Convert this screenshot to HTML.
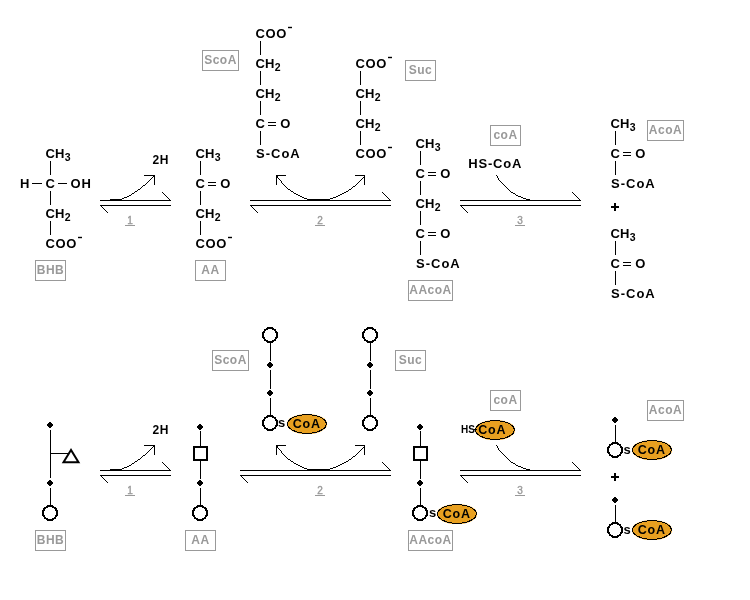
<!DOCTYPE html>
<html><head><meta charset="utf-8"><style>
html,body{margin:0;padding:0;background:#fff;width:750px;height:600px;overflow:hidden}
svg{display:block;will-change:transform;font-family:"Liberation Sans",sans-serif;font-weight:bold}
</style></head><body>
<svg width="750" height="600" viewBox="0 0 750 600">
<text x="45.5" y="158" font-size="13" letter-spacing="0" fill="#000" >CH</text>
<text x="64.8" y="160.6" font-size="10.5" letter-spacing="0" fill="#000" >3</text>
<rect x="50" y="161" width="1" height="14" fill="#000"/>
<text x="20" y="188" font-size="13" letter-spacing="0" fill="#000" >H</text>
<rect x="32" y="183" width="10" height="1" fill="#000"/>
<text x="45.5" y="188" font-size="13" letter-spacing="0" fill="#000" >C</text>
<rect x="58" y="183" width="9" height="1" fill="#000"/>
<text x="70.5" y="188" font-size="13" letter-spacing="1" fill="#000" >OH</text>
<rect x="50" y="191" width="1" height="14" fill="#000"/>
<text x="45.5" y="218" font-size="13" letter-spacing="0" fill="#000" >CH</text>
<text x="64.8" y="220.6" font-size="10.5" letter-spacing="0" fill="#000" >2</text>
<rect x="50" y="221" width="1" height="14" fill="#000"/>
<text x="45.5" y="248" font-size="13" letter-spacing="0.6" fill="#000" >COO</text>
<rect x="78" y="236.8" width="4" height="1.4" fill="#000"/>
<text x="195.5" y="158" font-size="13" letter-spacing="0" fill="#000" >CH</text>
<text x="214.8" y="160.6" font-size="10.5" letter-spacing="0" fill="#000" >3</text>
<rect x="200" y="161" width="1" height="14" fill="#000"/>
<text x="195.5" y="188" font-size="13" letter-spacing="1" fill="#000" >C</text>
<rect x="208" y="182" width="8" height="1" fill="#000"/>
<rect x="208" y="185" width="8" height="1" fill="#000"/>
<text x="220.3" y="188" font-size="13" letter-spacing="1" fill="#000" >O</text>
<rect x="200" y="191" width="1" height="14" fill="#000"/>
<text x="195.5" y="218" font-size="13" letter-spacing="0" fill="#000" >CH</text>
<text x="214.8" y="220.6" font-size="10.5" letter-spacing="0" fill="#000" >2</text>
<rect x="200" y="221" width="1" height="14" fill="#000"/>
<text x="195.5" y="248" font-size="13" letter-spacing="0.6" fill="#000" >COO</text>
<rect x="228" y="236.8" width="4" height="1.4" fill="#000"/>
<text x="255.5" y="38" font-size="13" letter-spacing="0.6" fill="#000" >COO</text>
<rect x="288" y="26.8" width="4" height="1.4" fill="#000"/>
<rect x="260" y="41" width="1" height="14" fill="#000"/>
<text x="255.5" y="68" font-size="13" letter-spacing="0" fill="#000" >CH</text>
<text x="274.8" y="70.6" font-size="10.5" letter-spacing="0" fill="#000" >2</text>
<rect x="260" y="71" width="1" height="14" fill="#000"/>
<text x="255.5" y="98" font-size="13" letter-spacing="0" fill="#000" >CH</text>
<text x="274.8" y="100.6" font-size="10.5" letter-spacing="0" fill="#000" >2</text>
<rect x="260" y="101" width="1" height="14" fill="#000"/>
<text x="255.5" y="128" font-size="13" letter-spacing="1" fill="#000" >C</text>
<rect x="268" y="122" width="8" height="1" fill="#000"/>
<rect x="268" y="125" width="8" height="1" fill="#000"/>
<text x="280.3" y="128" font-size="13" letter-spacing="1" fill="#000" >O</text>
<rect x="260" y="131" width="1" height="14" fill="#000"/>
<text x="256" y="158" font-size="13" letter-spacing="1" fill="#000" >S-CoA</text>
<text x="355.5" y="68" font-size="13" letter-spacing="0.6" fill="#000" >COO</text>
<rect x="388" y="56.8" width="4" height="1.4" fill="#000"/>
<rect x="360" y="71" width="1" height="14" fill="#000"/>
<text x="355.5" y="98" font-size="13" letter-spacing="0" fill="#000" >CH</text>
<text x="374.8" y="100.6" font-size="10.5" letter-spacing="0" fill="#000" >2</text>
<rect x="360" y="101" width="1" height="14" fill="#000"/>
<text x="355.5" y="128" font-size="13" letter-spacing="0" fill="#000" >CH</text>
<text x="374.8" y="130.6" font-size="10.5" letter-spacing="0" fill="#000" >2</text>
<rect x="360" y="131" width="1" height="14" fill="#000"/>
<text x="355.5" y="158" font-size="13" letter-spacing="0.6" fill="#000" >COO</text>
<rect x="388" y="146.8" width="4" height="1.4" fill="#000"/>
<text x="415.5" y="148" font-size="13" letter-spacing="0" fill="#000" >CH</text>
<text x="434.8" y="150.6" font-size="10.5" letter-spacing="0" fill="#000" >3</text>
<rect x="420" y="151" width="1" height="14" fill="#000"/>
<text x="415.5" y="178" font-size="13" letter-spacing="1" fill="#000" >C</text>
<rect x="428" y="172" width="8" height="1" fill="#000"/>
<rect x="428" y="175" width="8" height="1" fill="#000"/>
<text x="440.3" y="178" font-size="13" letter-spacing="1" fill="#000" >O</text>
<rect x="420" y="181" width="1" height="14" fill="#000"/>
<text x="415.5" y="208" font-size="13" letter-spacing="0" fill="#000" >CH</text>
<text x="434.8" y="210.6" font-size="10.5" letter-spacing="0" fill="#000" >2</text>
<rect x="420" y="211" width="1" height="14" fill="#000"/>
<text x="415.5" y="238" font-size="13" letter-spacing="1" fill="#000" >C</text>
<rect x="428" y="232" width="8" height="1" fill="#000"/>
<rect x="428" y="235" width="8" height="1" fill="#000"/>
<text x="440.3" y="238" font-size="13" letter-spacing="1" fill="#000" >O</text>
<rect x="420" y="241" width="1" height="14" fill="#000"/>
<text x="416" y="268" font-size="13" letter-spacing="1" fill="#000" >S-CoA</text>
<text x="468.3" y="168" font-size="13" letter-spacing="0.8" fill="#000" >HS-CoA</text>
<text x="610.5" y="128" font-size="13" letter-spacing="0" fill="#000" >CH</text>
<text x="629.8" y="130.6" font-size="10.5" letter-spacing="0" fill="#000" >3</text>
<rect x="615" y="131" width="1" height="14" fill="#000"/>
<text x="610.5" y="158" font-size="13" letter-spacing="1" fill="#000" >C</text>
<rect x="623" y="152" width="8" height="1" fill="#000"/>
<rect x="623" y="155" width="8" height="1" fill="#000"/>
<text x="635.3" y="158" font-size="13" letter-spacing="1" fill="#000" >O</text>
<rect x="615" y="161" width="1" height="14" fill="#000"/>
<text x="611" y="188" font-size="13" letter-spacing="1" fill="#000" >S-CoA</text>
<rect x="611" y="206" width="8" height="2" fill="#000"/>
<rect x="614" y="203" width="2" height="8" fill="#000"/>
<text x="610.5" y="238" font-size="13" letter-spacing="0" fill="#000" >CH</text>
<text x="629.8" y="240.6" font-size="10.5" letter-spacing="0" fill="#000" >3</text>
<rect x="615" y="241" width="1" height="14" fill="#000"/>
<text x="610.5" y="268" font-size="13" letter-spacing="1" fill="#000" >C</text>
<rect x="623" y="262" width="8" height="1" fill="#000"/>
<rect x="623" y="265" width="8" height="1" fill="#000"/>
<text x="635.3" y="268" font-size="13" letter-spacing="1" fill="#000" >O</text>
<rect x="615" y="271" width="1" height="14" fill="#000"/>
<text x="611" y="298" font-size="13" letter-spacing="1" fill="#000" >S-CoA</text>
<text x="152.6" y="164" font-size="12" letter-spacing="0.6" fill="#000" >2H</text>
<text x="152.6" y="434" font-size="12" letter-spacing="0.6" fill="#000" >2H</text>
<rect x="100" y="200" width="71" height="1" fill="#000"/>
<rect x="100" y="205" width="71" height="1" fill="#000"/>
<line x1="162.5" y1="192.5" x2="170.5" y2="200.5" stroke="#000" stroke-width="1" shape-rendering="crispEdges" />
<line x1="100.5" y1="205.5" x2="108" y2="213" stroke="#000" stroke-width="1" shape-rendering="crispEdges" />
<path d="M110,199h1v1h-1zM111,199h1v1h-1zM112,199h1v1h-1zM113,199h1v1h-1zM114,199h1v1h-1zM115,199h1v1h-1zM116,199h1v1h-1zM117,199h1v1h-1zM118,199h1v1h-1zM119,199h1v1h-1zM120,199h1v1h-1zM121,199h1v1h-1zM122,198h1v1h-1zM123,198h1v1h-1zM124,197h1v1h-1zM125,197h1v1h-1zM126,197h1v1h-1zM127,196h1v1h-1zM128,196h1v1h-1zM129,195h1v1h-1zM130,195h1v1h-1zM131,194h1v1h-1zM132,193h1v1h-1zM133,193h1v1h-1zM134,192h1v1h-1zM135,191h1v1h-1zM136,191h1v1h-1zM137,190h1v1h-1zM138,189h1v1h-1zM139,189h1v1h-1zM140,188h1v1h-1zM141,187h1v1h-1zM142,186h1v1h-1zM143,185h1v1h-1zM144,185h1v1h-1zM145,184h1v1h-1zM146,183h1v1h-1zM147,182h1v1h-1zM148,181h1v1h-1zM149,180h1v1h-1zM150,179h1v1h-1zM151,178h1v1h-1zM152,177h1v1h-1zM153,176h1v1h-1zM154,175h1v1h-1z" fill="#000"/>
<rect x="144" y="175" width="11" height="1" fill="#000"/>
<rect x="154" y="175" width="1" height="10" fill="#000"/>
<rect x="250" y="200" width="141" height="1" fill="#000"/>
<rect x="250" y="205" width="141" height="1" fill="#000"/>
<line x1="382.5" y1="192.5" x2="390.5" y2="200.5" stroke="#000" stroke-width="1" shape-rendering="crispEdges" />
<line x1="250.5" y1="205.5" x2="258" y2="213" stroke="#000" stroke-width="1" shape-rendering="crispEdges" />
<path d="M276,175h1v1h-1zM277,176h1v1h-1zM277,177h1v1h-1zM278,178h1v1h-1zM279,179h1v1h-1zM280,180h1v1h-1zM281,181h1v1h-1zM281,182h1v1h-1zM282,183h1v1h-1zM283,184h1v1h-1zM284,185h1v1h-1zM285,186h1v1h-1zM286,187h1v1h-1zM287,188h1v1h-1zM288,189h1v1h-1zM289,189h1v1h-1zM290,190h1v1h-1zM291,191h1v1h-1zM292,191h1v1h-1zM293,192h1v1h-1zM294,193h1v1h-1zM295,193h1v1h-1zM296,194h1v1h-1zM297,194h1v1h-1zM298,195h1v1h-1zM299,195h1v1h-1zM300,196h1v1h-1zM301,196h1v1h-1zM302,197h1v1h-1zM303,197h1v1h-1zM304,198h1v1h-1zM305,198h1v1h-1zM306,198h1v1h-1zM307,199h1v1h-1zM308,199h1v1h-1zM309,199h1v1h-1zM310,199h1v1h-1zM311,199h1v1h-1zM312,199h1v1h-1zM313,199h1v1h-1zM314,199h1v1h-1zM315,199h1v1h-1zM316,199h1v1h-1zM317,199h1v1h-1zM318,199h1v1h-1zM319,199h1v1h-1zM320,199h1v1h-1zM321,199h1v1h-1zM322,199h1v1h-1zM323,199h1v1h-1zM324,199h1v1h-1zM325,199h1v1h-1zM326,199h1v1h-1zM327,199h1v1h-1zM328,199h1v1h-1zM329,199h1v1h-1zM330,198h1v1h-1zM331,198h1v1h-1zM332,198h1v1h-1zM333,197h1v1h-1zM334,197h1v1h-1zM335,197h1v1h-1zM336,196h1v1h-1zM337,196h1v1h-1zM338,195h1v1h-1zM339,195h1v1h-1zM340,194h1v1h-1zM341,194h1v1h-1zM342,193h1v1h-1zM343,193h1v1h-1zM344,192h1v1h-1zM345,192h1v1h-1zM346,191h1v1h-1zM347,191h1v1h-1zM348,190h1v1h-1zM349,189h1v1h-1zM350,189h1v1h-1zM351,188h1v1h-1zM352,187h1v1h-1zM353,186h1v1h-1zM354,186h1v1h-1zM355,185h1v1h-1zM356,184h1v1h-1zM357,183h1v1h-1zM358,182h1v1h-1zM359,181h1v1h-1zM360,180h1v1h-1zM361,179h1v1h-1zM362,178h1v1h-1zM363,177h1v1h-1zM364,176h1v1h-1zM364,175h1v1h-1z" fill="#000"/>
<rect x="276" y="175" width="10" height="1" fill="#000"/>
<rect x="276" y="175" width="1" height="10" fill="#000"/>
<rect x="355" y="175" width="10" height="1" fill="#000"/>
<rect x="364" y="175" width="1" height="10" fill="#000"/>
<rect x="460" y="200" width="121" height="1" fill="#000"/>
<rect x="460" y="205" width="121" height="1" fill="#000"/>
<line x1="572.5" y1="192.5" x2="580.5" y2="200.5" stroke="#000" stroke-width="1" shape-rendering="crispEdges" />
<line x1="460.5" y1="205.5" x2="468" y2="213" stroke="#000" stroke-width="1" shape-rendering="crispEdges" />
<path d="M496,175h1v1h-1zM497,176h1v1h-1zM497,177h1v1h-1zM498,178h1v1h-1zM498,179h1v1h-1zM499,180h1v1h-1zM500,181h1v1h-1zM501,182h1v1h-1zM502,183h1v1h-1zM503,184h1v1h-1zM504,185h1v1h-1zM505,186h1v1h-1zM506,187h1v1h-1zM507,188h1v1h-1zM508,189h1v1h-1zM509,190h1v1h-1zM510,191h1v1h-1zM511,192h1v1h-1zM512,192h1v1h-1zM513,193h1v1h-1zM514,193h1v1h-1zM515,194h1v1h-1zM516,195h1v1h-1zM517,195h1v1h-1zM518,196h1v1h-1zM519,196h1v1h-1zM520,196h1v1h-1zM521,197h1v1h-1zM522,197h1v1h-1zM523,198h1v1h-1zM524,198h1v1h-1zM525,198h1v1h-1zM526,199h1v1h-1zM527,199h1v1h-1zM528,199h1v1h-1zM529,199h1v1h-1z" fill="#000"/>
<text x="130" y="224" font-size="10" letter-spacing="0" fill="#999" text-anchor="middle" font-weight="normal" stroke="#999" stroke-width="0.35">1</text>
<rect x="125" y="225" width="10" height="1" fill="#999"/>
<text x="320" y="224" font-size="10" letter-spacing="0" fill="#999" text-anchor="middle" font-weight="normal" stroke="#999" stroke-width="0.35">2</text>
<rect x="315" y="225" width="10" height="1" fill="#999"/>
<text x="520" y="224" font-size="10" letter-spacing="0" fill="#999" text-anchor="middle" font-weight="normal" stroke="#999" stroke-width="0.35">3</text>
<rect x="515" y="225" width="10" height="1" fill="#999"/>
<rect x="100" y="470" width="71" height="1" fill="#000"/>
<rect x="100" y="475" width="71" height="1" fill="#000"/>
<line x1="162.5" y1="462.5" x2="170.5" y2="470.5" stroke="#000" stroke-width="1" shape-rendering="crispEdges" />
<line x1="100.5" y1="475.5" x2="108" y2="483" stroke="#000" stroke-width="1" shape-rendering="crispEdges" />
<path d="M110,469h1v1h-1zM111,469h1v1h-1zM112,469h1v1h-1zM113,469h1v1h-1zM114,469h1v1h-1zM115,469h1v1h-1zM116,469h1v1h-1zM117,469h1v1h-1zM118,469h1v1h-1zM119,469h1v1h-1zM120,469h1v1h-1zM121,469h1v1h-1zM122,468h1v1h-1zM123,468h1v1h-1zM124,467h1v1h-1zM125,467h1v1h-1zM126,467h1v1h-1zM127,466h1v1h-1zM128,466h1v1h-1zM129,465h1v1h-1zM130,465h1v1h-1zM131,464h1v1h-1zM132,463h1v1h-1zM133,463h1v1h-1zM134,462h1v1h-1zM135,461h1v1h-1zM136,461h1v1h-1zM137,460h1v1h-1zM138,459h1v1h-1zM139,459h1v1h-1zM140,458h1v1h-1zM141,457h1v1h-1zM142,456h1v1h-1zM143,455h1v1h-1zM144,455h1v1h-1zM145,454h1v1h-1zM146,453h1v1h-1zM147,452h1v1h-1zM148,451h1v1h-1zM149,450h1v1h-1zM150,449h1v1h-1zM151,448h1v1h-1zM152,447h1v1h-1zM153,446h1v1h-1zM154,445h1v1h-1z" fill="#000"/>
<rect x="144" y="445" width="11" height="1" fill="#000"/>
<rect x="154" y="445" width="1" height="10" fill="#000"/>
<rect x="240" y="470" width="151" height="1" fill="#000"/>
<rect x="240" y="475" width="151" height="1" fill="#000"/>
<line x1="382.5" y1="462.5" x2="390.5" y2="470.5" stroke="#000" stroke-width="1" shape-rendering="crispEdges" />
<line x1="240.5" y1="475.5" x2="248" y2="483" stroke="#000" stroke-width="1" shape-rendering="crispEdges" />
<path d="M276,445h1v1h-1zM277,446h1v1h-1zM277,447h1v1h-1zM278,448h1v1h-1zM279,449h1v1h-1zM280,450h1v1h-1zM281,451h1v1h-1zM281,452h1v1h-1zM282,453h1v1h-1zM283,454h1v1h-1zM284,455h1v1h-1zM285,456h1v1h-1zM286,457h1v1h-1zM287,458h1v1h-1zM288,459h1v1h-1zM289,459h1v1h-1zM290,460h1v1h-1zM291,461h1v1h-1zM292,461h1v1h-1zM293,462h1v1h-1zM294,463h1v1h-1zM295,463h1v1h-1zM296,464h1v1h-1zM297,464h1v1h-1zM298,465h1v1h-1zM299,465h1v1h-1zM300,466h1v1h-1zM301,466h1v1h-1zM302,467h1v1h-1zM303,467h1v1h-1zM304,468h1v1h-1zM305,468h1v1h-1zM306,468h1v1h-1zM307,469h1v1h-1zM308,469h1v1h-1zM309,469h1v1h-1zM310,469h1v1h-1zM311,469h1v1h-1zM312,469h1v1h-1zM313,469h1v1h-1zM314,469h1v1h-1zM315,469h1v1h-1zM316,469h1v1h-1zM317,469h1v1h-1zM318,469h1v1h-1zM319,469h1v1h-1zM320,469h1v1h-1zM321,469h1v1h-1zM322,469h1v1h-1zM323,469h1v1h-1zM324,469h1v1h-1zM325,469h1v1h-1zM326,469h1v1h-1zM327,469h1v1h-1zM328,469h1v1h-1zM329,469h1v1h-1zM330,468h1v1h-1zM331,468h1v1h-1zM332,468h1v1h-1zM333,467h1v1h-1zM334,467h1v1h-1zM335,467h1v1h-1zM336,466h1v1h-1zM337,466h1v1h-1zM338,465h1v1h-1zM339,465h1v1h-1zM340,464h1v1h-1zM341,464h1v1h-1zM342,463h1v1h-1zM343,463h1v1h-1zM344,462h1v1h-1zM345,462h1v1h-1zM346,461h1v1h-1zM347,461h1v1h-1zM348,460h1v1h-1zM349,459h1v1h-1zM350,459h1v1h-1zM351,458h1v1h-1zM352,457h1v1h-1zM353,456h1v1h-1zM354,456h1v1h-1zM355,455h1v1h-1zM356,454h1v1h-1zM357,453h1v1h-1zM358,452h1v1h-1zM359,451h1v1h-1zM360,450h1v1h-1zM361,449h1v1h-1zM362,448h1v1h-1zM363,447h1v1h-1zM364,446h1v1h-1zM364,445h1v1h-1z" fill="#000"/>
<rect x="276" y="445" width="10" height="1" fill="#000"/>
<rect x="276" y="445" width="1" height="10" fill="#000"/>
<rect x="355" y="445" width="10" height="1" fill="#000"/>
<rect x="364" y="445" width="1" height="10" fill="#000"/>
<rect x="460" y="470" width="121" height="1" fill="#000"/>
<rect x="460" y="475" width="121" height="1" fill="#000"/>
<line x1="572.5" y1="462.5" x2="580.5" y2="470.5" stroke="#000" stroke-width="1" shape-rendering="crispEdges" />
<line x1="460.5" y1="475.5" x2="468" y2="483" stroke="#000" stroke-width="1" shape-rendering="crispEdges" />
<path d="M496,445h1v1h-1zM497,446h1v1h-1zM497,447h1v1h-1zM498,448h1v1h-1zM498,449h1v1h-1zM499,450h1v1h-1zM500,451h1v1h-1zM501,452h1v1h-1zM502,453h1v1h-1zM503,454h1v1h-1zM504,455h1v1h-1zM505,456h1v1h-1zM506,457h1v1h-1zM507,458h1v1h-1zM508,459h1v1h-1zM509,460h1v1h-1zM510,461h1v1h-1zM511,462h1v1h-1zM512,462h1v1h-1zM513,463h1v1h-1zM514,463h1v1h-1zM515,464h1v1h-1zM516,465h1v1h-1zM517,465h1v1h-1zM518,466h1v1h-1zM519,466h1v1h-1zM520,466h1v1h-1zM521,467h1v1h-1zM522,467h1v1h-1zM523,468h1v1h-1zM524,468h1v1h-1zM525,468h1v1h-1zM526,469h1v1h-1zM527,469h1v1h-1zM528,469h1v1h-1zM529,469h1v1h-1z" fill="#000"/>
<text x="130" y="494" font-size="10" letter-spacing="0" fill="#999" text-anchor="middle" font-weight="normal" stroke="#999" stroke-width="0.35">1</text>
<rect x="125" y="495" width="10" height="1" fill="#999"/>
<text x="320" y="494" font-size="10" letter-spacing="0" fill="#999" text-anchor="middle" font-weight="normal" stroke="#999" stroke-width="0.35">2</text>
<rect x="315" y="495" width="10" height="1" fill="#999"/>
<text x="520" y="494" font-size="10" letter-spacing="0" fill="#999" text-anchor="middle" font-weight="normal" stroke="#999" stroke-width="0.35">3</text>
<rect x="515" y="495" width="10" height="1" fill="#999"/>
<rect x="202.5" y="50.5" width="36" height="20" fill="none" stroke="#999" stroke-width="1"/>
<text x="220.5" y="64.2" font-size="12" letter-spacing="0.5" fill="#999" text-anchor="middle">ScoA</text>
<rect x="405.5" y="60.5" width="30" height="20" fill="none" stroke="#999" stroke-width="1"/>
<text x="420.5" y="74.2" font-size="12" letter-spacing="0.5" fill="#999" text-anchor="middle">Suc</text>
<rect x="490.5" y="125.5" width="30" height="20" fill="none" stroke="#999" stroke-width="1"/>
<text x="505.5" y="139.2" font-size="12" letter-spacing="0.5" fill="#999" text-anchor="middle">coA</text>
<rect x="647.5" y="120.5" width="36" height="20" fill="none" stroke="#999" stroke-width="1"/>
<text x="665.5" y="134.2" font-size="12" letter-spacing="0.5" fill="#999" text-anchor="middle">AcoA</text>
<rect x="35.5" y="260.5" width="30" height="20" fill="none" stroke="#999" stroke-width="1"/>
<text x="50.5" y="274.2" font-size="12" letter-spacing="0.5" fill="#999" text-anchor="middle">BHB</text>
<rect x="195.5" y="260.5" width="30" height="20" fill="none" stroke="#999" stroke-width="1"/>
<text x="210.5" y="274.2" font-size="12" letter-spacing="0.5" fill="#999" text-anchor="middle">AA</text>
<rect x="408.5" y="280.5" width="44" height="20" fill="none" stroke="#999" stroke-width="1"/>
<text x="430.5" y="294.2" font-size="12" letter-spacing="0.5" fill="#999" text-anchor="middle">AAcoA</text>
<rect x="212.5" y="350.5" width="36" height="20" fill="none" stroke="#999" stroke-width="1"/>
<text x="230.5" y="364.2" font-size="12" letter-spacing="0.5" fill="#999" text-anchor="middle">ScoA</text>
<rect x="395.5" y="350.5" width="30" height="20" fill="none" stroke="#999" stroke-width="1"/>
<text x="410.5" y="364.2" font-size="12" letter-spacing="0.5" fill="#999" text-anchor="middle">Suc</text>
<rect x="490.5" y="390.5" width="30" height="20" fill="none" stroke="#999" stroke-width="1"/>
<text x="505.5" y="404.2" font-size="12" letter-spacing="0.5" fill="#999" text-anchor="middle">coA</text>
<rect x="647.5" y="400.5" width="36" height="20" fill="none" stroke="#999" stroke-width="1"/>
<text x="665.5" y="414.2" font-size="12" letter-spacing="0.5" fill="#999" text-anchor="middle">AcoA</text>
<rect x="35.5" y="530.5" width="30" height="20" fill="none" stroke="#999" stroke-width="1"/>
<text x="50.5" y="544.2" font-size="12" letter-spacing="0.5" fill="#999" text-anchor="middle">BHB</text>
<rect x="185.5" y="530.5" width="30" height="20" fill="none" stroke="#999" stroke-width="1"/>
<text x="200.5" y="544.2" font-size="12" letter-spacing="0.5" fill="#999" text-anchor="middle">AA</text>
<rect x="408.5" y="530.5" width="44" height="20" fill="none" stroke="#999" stroke-width="1"/>
<text x="430.5" y="544.2" font-size="12" letter-spacing="0.5" fill="#999" text-anchor="middle">AAcoA</text>
<path d="M49,422 H51 V423 H52 V424 H53 V426 H52 V427 H51 V428 H49 V427 H48 V426 H47 V424 H48 V423 H49 Z" fill="#000" shape-rendering="crispEdges"/>
<rect x="50" y="430" width="1" height="48" fill="#000"/>
<rect x="50" y="453" width="18" height="1" fill="#000"/>
<path d="M71,450 L63.5,462.3 L78.5,462.3 Z" fill="none" stroke="#000" stroke-width="2" stroke-linejoin="miter"/>
<path d="M49,480 H51 V481 H52 V482 H53 V484 H52 V485 H51 V486 H49 V485 H48 V484 H47 V482 H48 V481 H49 Z" fill="#000" shape-rendering="crispEdges"/>
<rect x="50" y="488" width="1" height="18" fill="#000"/>
<circle cx="50" cy="513" r="7" fill="#fff" stroke="#000" stroke-width="2" shape-rendering="crispEdges"/>
<path d="M199,424 H201 V425 H202 V426 H203 V428 H202 V429 H201 V430 H199 V429 H198 V428 H197 V426 H198 V425 H199 Z" fill="#000" shape-rendering="crispEdges"/>
<rect x="200" y="431" width="1" height="16" fill="#000"/>
<rect x="194" y="447" width="13" height="13" fill="#fff" stroke="#000" stroke-width="2"/>
<rect x="200" y="461" width="1" height="18" fill="#000"/>
<path d="M199,480 H201 V481 H202 V482 H203 V484 H202 V485 H201 V486 H199 V485 H198 V484 H197 V482 H198 V481 H199 Z" fill="#000" shape-rendering="crispEdges"/>
<rect x="200" y="488" width="1" height="18" fill="#000"/>
<circle cx="200" cy="513" r="7" fill="#fff" stroke="#000" stroke-width="2" shape-rendering="crispEdges"/>
<rect x="270" y="342" width="1" height="19" fill="#000"/>
<rect x="270" y="370" width="1" height="19" fill="#000"/>
<rect x="270" y="398" width="1" height="19" fill="#000"/>
<circle cx="270" cy="335" r="7" fill="#fff" stroke="#000" stroke-width="2" shape-rendering="crispEdges"/>
<path d="M269,362 H271 V363 H272 V364 H273 V366 H272 V367 H271 V368 H269 V367 H268 V366 H267 V364 H268 V363 H269 Z" fill="#000" shape-rendering="crispEdges"/>
<path d="M269,390 H271 V391 H272 V392 H273 V394 H272 V395 H271 V396 H269 V395 H268 V394 H267 V392 H268 V391 H269 Z" fill="#000" shape-rendering="crispEdges"/>
<circle cx="270" cy="423" r="7" fill="#fff" stroke="#000" stroke-width="2" shape-rendering="crispEdges"/>
<rect x="370" y="342" width="1" height="19" fill="#000"/>
<rect x="370" y="370" width="1" height="19" fill="#000"/>
<rect x="370" y="398" width="1" height="19" fill="#000"/>
<circle cx="370" cy="335" r="7" fill="#fff" stroke="#000" stroke-width="2" shape-rendering="crispEdges"/>
<path d="M369,362 H371 V363 H372 V364 H373 V366 H372 V367 H371 V368 H369 V367 H368 V366 H367 V364 H368 V363 H369 Z" fill="#000" shape-rendering="crispEdges"/>
<path d="M369,390 H371 V391 H372 V392 H373 V394 H372 V395 H371 V396 H369 V395 H368 V394 H367 V392 H368 V391 H369 Z" fill="#000" shape-rendering="crispEdges"/>
<circle cx="370" cy="423" r="7" fill="#fff" stroke="#000" stroke-width="2" shape-rendering="crispEdges"/>
<text x="278" y="426.5" font-size="13" letter-spacing="0" fill="#000" >s</text>
<ellipse cx="307" cy="424" rx="20.1" ry="10.1" fill="#E8A020"/>
<ellipse cx="307" cy="424" rx="19.3" ry="9.3" fill="none" stroke="#000" stroke-width="1" shape-rendering="crispEdges"/>
<text x="306.7" y="428.0" font-size="12.5" letter-spacing="0.8" fill="#000" text-anchor="middle">CoA</text>
<path d="M419,424 H421 V425 H422 V426 H423 V428 H422 V429 H421 V430 H419 V429 H418 V428 H417 V426 H418 V425 H419 Z" fill="#000" shape-rendering="crispEdges"/>
<rect x="420" y="431" width="1" height="16" fill="#000"/>
<rect x="414" y="447" width="13" height="13" fill="#fff" stroke="#000" stroke-width="2"/>
<rect x="420" y="461" width="1" height="18" fill="#000"/>
<path d="M419,480 H421 V481 H422 V482 H423 V484 H422 V485 H421 V486 H419 V485 H418 V484 H417 V482 H418 V481 H419 Z" fill="#000" shape-rendering="crispEdges"/>
<rect x="420" y="488" width="1" height="18" fill="#000"/>
<circle cx="420" cy="513" r="7" fill="#fff" stroke="#000" stroke-width="2" shape-rendering="crispEdges"/>
<text x="429" y="517" font-size="13" letter-spacing="0" fill="#000" >s</text>
<ellipse cx="457" cy="514" rx="20.1" ry="10.1" fill="#E8A020"/>
<ellipse cx="457" cy="514" rx="19.3" ry="9.3" fill="none" stroke="#000" stroke-width="1" shape-rendering="crispEdges"/>
<text x="456.7" y="518.0" font-size="12.5" letter-spacing="0.8" fill="#000" text-anchor="middle">CoA</text>
<text x="461" y="433" font-size="10" letter-spacing="0" fill="#000" >HS</text>
<ellipse cx="495" cy="430" rx="20.1" ry="10.1" fill="#E8A020"/>
<ellipse cx="495" cy="430" rx="19.3" ry="9.3" fill="none" stroke="#000" stroke-width="1" shape-rendering="crispEdges"/>
<text x="492.2" y="434.0" font-size="12.5" letter-spacing="0.8" fill="#000" text-anchor="middle">CoA</text>
<rect x="474" y="429" width="3" height="1" fill="#000"/>
<path d="M614,417 H616 V418 H617 V419 H618 V421 H617 V422 H616 V423 H614 V422 H613 V421 H612 V419 H613 V418 H614 Z" fill="#000" shape-rendering="crispEdges"/>
<rect x="615" y="425" width="1" height="18" fill="#000"/>
<circle cx="615" cy="450" r="7" fill="#fff" stroke="#000" stroke-width="2" shape-rendering="crispEdges"/>
<text x="623.5" y="453.5" font-size="13" letter-spacing="0" fill="#000" >s</text>
<ellipse cx="652" cy="450" rx="20.1" ry="10.1" fill="#E8A020"/>
<ellipse cx="652" cy="450" rx="19.3" ry="9.3" fill="none" stroke="#000" stroke-width="1" shape-rendering="crispEdges"/>
<text x="651.7" y="454.0" font-size="12.5" letter-spacing="0.8" fill="#000" text-anchor="middle">CoA</text>
<path d="M614,497 H616 V498 H617 V499 H618 V501 H617 V502 H616 V503 H614 V502 H613 V501 H612 V499 H613 V498 H614 Z" fill="#000" shape-rendering="crispEdges"/>
<rect x="615" y="505" width="1" height="18" fill="#000"/>
<circle cx="615" cy="530" r="7" fill="#fff" stroke="#000" stroke-width="2" shape-rendering="crispEdges"/>
<text x="623.5" y="533.5" font-size="13" letter-spacing="0" fill="#000" >s</text>
<ellipse cx="652" cy="530" rx="20.1" ry="10.1" fill="#E8A020"/>
<ellipse cx="652" cy="530" rx="19.3" ry="9.3" fill="none" stroke="#000" stroke-width="1" shape-rendering="crispEdges"/>
<text x="651.7" y="534.0" font-size="12.5" letter-spacing="0.8" fill="#000" text-anchor="middle">CoA</text>
<rect x="611" y="476" width="8" height="2" fill="#000"/>
<rect x="614" y="473" width="2" height="8" fill="#000"/>
</svg>
</body></html>
